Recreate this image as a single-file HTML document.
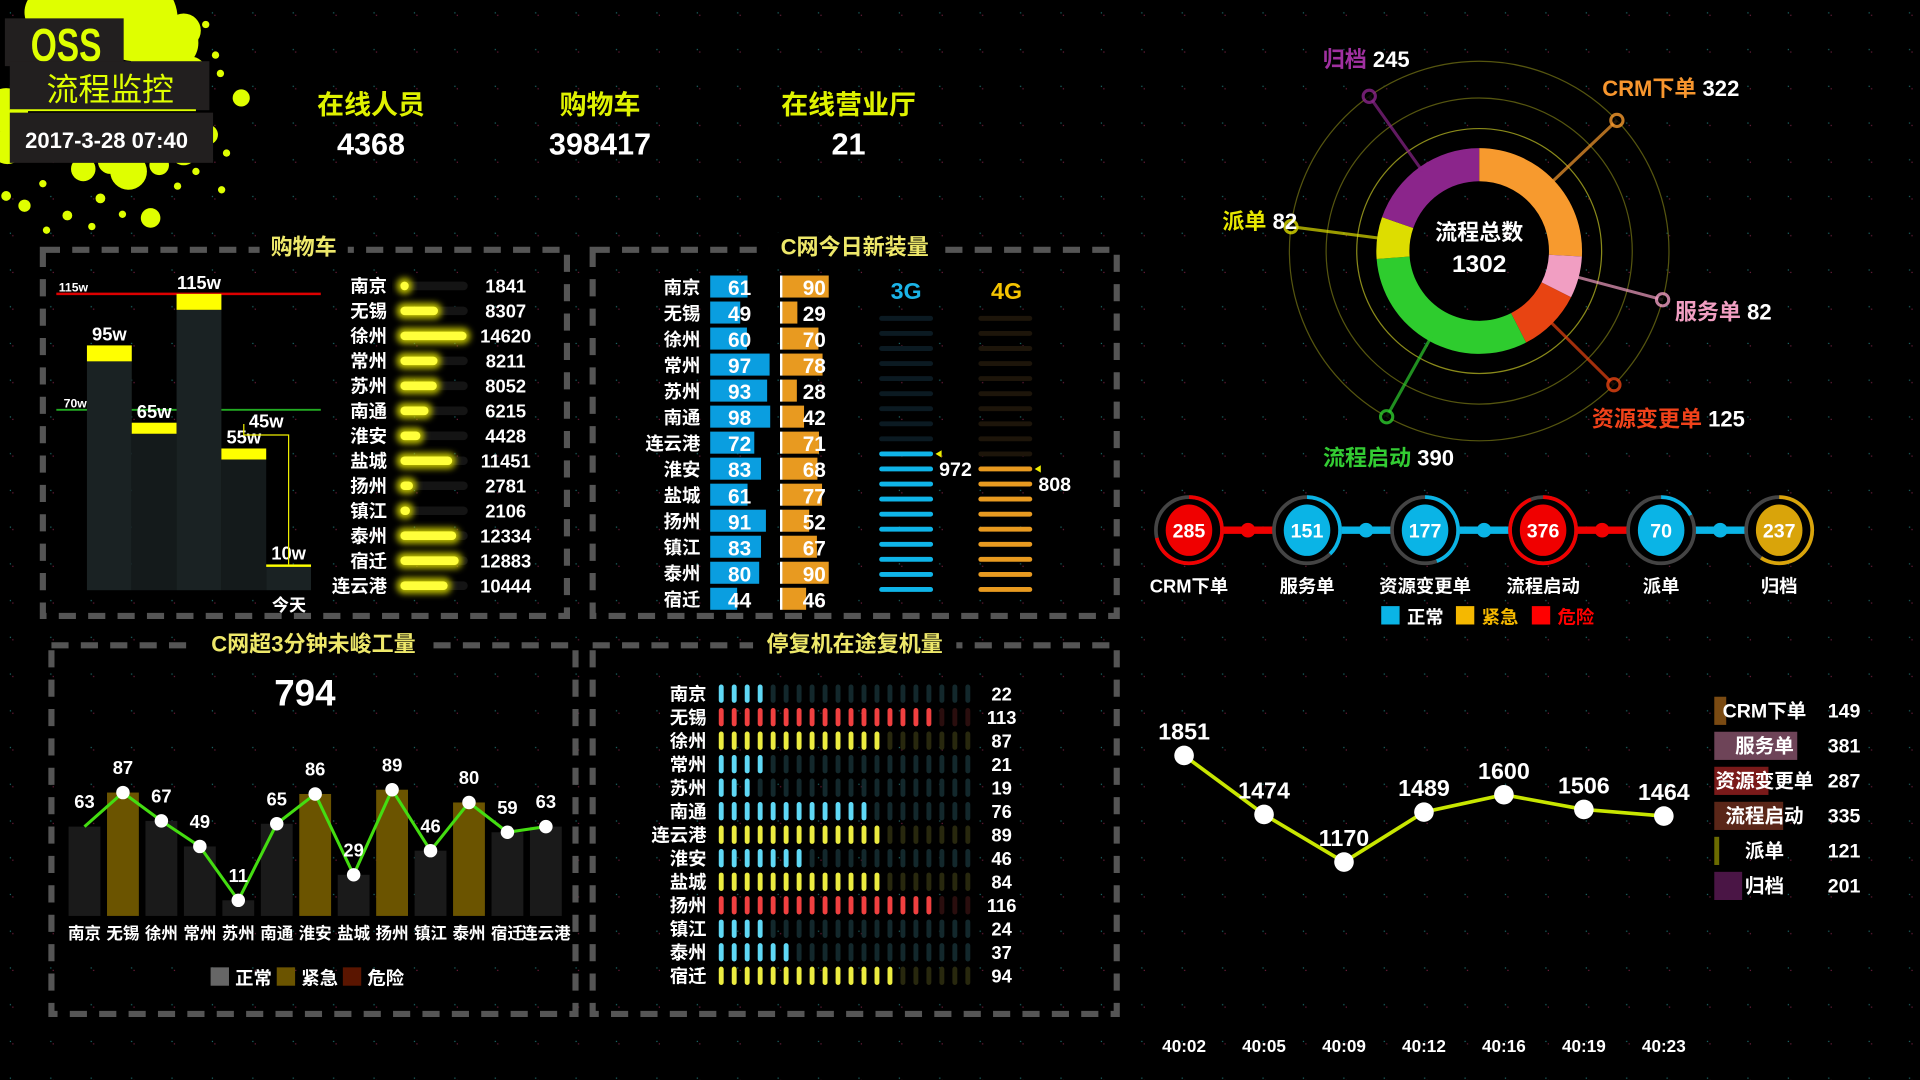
<!DOCTYPE html>
<html><head><meta charset="utf-8"><style>
html,body{margin:0;padding:0;background:#000;width:1920px;height:1080px;overflow:hidden}
svg{display:block}
text{font-family:"Liberation Sans","Noto Sans CJK SC",sans-serif;font-weight:bold}
</style></head><body>
<svg id="root" width="1920" height="1080" viewBox="0 0 1568 882" xmlns="http://www.w3.org/2000/svg">
<defs>
<pattern id="dots" width="33" height="30" patternUnits="userSpaceOnUse">
<rect x="8" y="10" width="1" height="1" fill="#1c6a6a"/><rect x="10" y="12" width="1" height="1" fill="#6a1c3a"/>
</pattern>
<filter id="glow" x="-30%" y="-100%" width="160%" height="300%"><feGaussianBlur stdDeviation="2.5"/></filter>
</defs>
<rect width="1568" height="882" fill="#000"/>
<rect width="1568" height="882" fill="url(#dots)"/>

<!-- splash logo -->
<g fill="#dfff00">
<circle cx="60" cy="20" r="30"/><circle cx="110" cy="15" r="35"/><circle cx="140" cy="35" r="22"/><circle cx="40" cy="10" r="20"/>
<circle cx="150" cy="25" r="14"/><circle cx="125" cy="50" r="18"/><circle cx="155" cy="60" r="14"/><circle cx="5" cy="90" r="18"/><circle cx="6" cy="120" r="14"/><circle cx="170" cy="110" r="8"/>
<circle cx="197" cy="80" r="7"/><circle cx="105" cy="140" r="15"/><circle cx="68" cy="138" r="10"/><circle cx="90" cy="132" r="10"/><circle cx="150" cy="125" r="10"/><circle cx="130" cy="135" r="8"/>
<circle cx="20" cy="168" r="5"/><circle cx="123" cy="178" r="8"/><circle cx="55" cy="176" r="4"/><circle cx="168" cy="20" r="3"/>
<circle cx="176" cy="45" r="3"/><circle cx="180" cy="60" r="3"/><circle cx="160" cy="140" r="3"/><circle cx="145" cy="152" r="3"/>
<circle cx="35" cy="150" r="3"/><circle cx="82" cy="162" r="4"/><circle cx="100" cy="175" r="3"/><circle cx="181" cy="155" r="3"/>
<circle cx="185" cy="125" r="3"/><circle cx="38" cy="188" r="3"/><circle cx="75" cy="185" r="3"/><circle cx="5" cy="160" r="4"/>
</g>
<rect x="4" y="15" width="97" height="39" fill="#221f1f"/>
<text x="54" y="50" text-anchor="middle" font-size="38" fill="#dfff00" transform="translate(54 0) scale(0.72 1) translate(-54 0)">OSS</text>
<rect x="8" y="50" width="163" height="40" fill="#221f1f"/>
<line x1="8" y1="90" x2="160" y2="90" stroke="#dfff00" stroke-width="1.5"/>
<text x="90" y="82" text-anchor="middle" font-size="26" fill="#dfff00" style="font-weight:normal">流程监控</text>
<rect x="8" y="92" width="166" height="41" fill="#221f1f"/>
<text x="87" y="121" text-anchor="middle" font-size="18" fill="#fff">2017-3-28  07:40</text>

<!-- KPIs -->
<g><text x="303" y="93" text-anchor="middle" font-size="22" fill="#dff200">在线人员</text><text x="303" y="126" text-anchor="middle" font-size="25" fill="#fff">4368</text></g>
<g><text x="490" y="93" text-anchor="middle" font-size="22" fill="#dff200">购物车</text><text x="490" y="126" text-anchor="middle" font-size="25" fill="#fff">398417</text></g>
<g><text x="693" y="93" text-anchor="middle" font-size="22" fill="#dff200">在线营业厅</text><text x="693" y="126" text-anchor="middle" font-size="25" fill="#fff">21</text></g>

<!-- panels -->
<g fill="none" stroke="#555" stroke-width="5" stroke-dasharray="14 10">
<rect x="35" y="204" width="428" height="299"/>
<rect x="484" y="204" width="428" height="299"/>
<rect x="42" y="527" width="428" height="301"/>
<rect x="484" y="527" width="428" height="301"/>
</g>
<g font-size="18" fill="#eee86a" text-anchor="middle">
<rect x="212" y="190" width="72" height="24" fill="#000"/><text x="248" y="208">购物车</text>
<rect x="628" y="190" width="140" height="24" fill="#000"/><text x="698" y="208">C网今日新装量</text>
<rect x="160" y="513" width="194" height="24" fill="#000"/><text x="256" y="532">C网超3分钟未峻工量</text>
<rect x="615" y="513" width="166" height="24" fill="#000"/><text x="698" y="532">停复机在途复机量</text>
</g>

<g id="g-cart"></g>
<g id="g-install"></g>
<g id="g-over"></g>
<g id="g-restart"></g>
<g id="g-donut"></g>
<g id="g-nodes"></g>
<g id="g-line"></g>
<g id="g-legend"></g>
</svg>
<script>
// ---- data ----
const wfLabels=["95w","65w","115w","55w","10w"];
const wfValues=[95,65,115,55,10];
const cartCities=["南京","无锡","徐州","常州","苏州","南通","淮安","盐城","扬州","镇江","泰州","宿迁","连云港"];
const cartValues=[1841,8307,14620,8211,8052,6215,4428,11451,2781,2106,12334,12883,10444];
const instCities=["南京","无锡","徐州","常州","苏州","南通","连云港","淮安","盐城","扬州","镇江","泰州","宿迁"];
const inst3G=[61,49,60,97,93,98,72,83,61,91,83,80,44];
const inst4G=[90,29,70,78,28,42,71,68,77,52,67,90,46];
const total3G=972, total4G=808;
const overCities=["南京","无锡","徐州","常州","苏州","南通","淮安","盐城","扬州","镇江","泰州","宿迁","连云港"];
const overValues=[63,87,67,49,11,65,86,29,89,46,80,59,63];
const overLevel=[0,1,0,0,0,0,1,0,1,0,1,0,0];
const overTotal=794;
const restCities=["南京","无锡","徐州","常州","苏州","南通","连云港","淮安","盐城","扬州","镇江","泰州","宿迁"];
const restValues=[22,113,87,21,19,76,89,46,84,116,24,37,94];
const donutNames=["CRM下单","服务单","资源变更单","流程启动","派单","归档"];
const donutValues=[322,82,125,390,82,245];
const donutTotal=1302;
const nodeNames=["CRM下单","服务单","资源变更单","流程启动","派单","归档"];
const nodeValues=[285,151,177,376,70,237];
const nodeStatus=[2,0,0,2,0,1];
const timeLabels=["40:02","40:05","40:09","40:12","40:16","40:19","40:23"];
const timeValues=[1851,1474,1170,1489,1600,1506,1464];
const legNames=["CRM下单","服务单","资源变更单","流程启动","派单","归档"];
const legValues=[149,381,287,335,121,201];

const NS="http://www.w3.org/2000/svg";
function mk(p,tag,at,txt){const e=document.createElementNS(NS,tag);for(const k in at)e.setAttribute(k,at[k]);if(txt!==undefined)e.textContent=txt;p.appendChild(e);return e;}

// ---- cart waterfall ----
(function(){
const g=document.getElementById('g-cart');
const base=482, sc=(482-240)/115, x0=71, bw=36.6;
const yv=v=>base-v*sc;
mk(g,'line',{x1:46,y1:yv(115),x2:262,y2:yv(115),stroke:'#d00',"stroke-width":2});
mk(g,'line',{x1:46,y1:yv(70),x2:262,y2:yv(70),stroke:'#2a2','stroke-width':1.5});
let t=mk(g,'text',{x:48,y:yv(115)-2,"font-size":10,fill:'#fff'},"115w");


t=mk(g,'text',{x:52,y:yv(70)-2,"font-size":10,fill:'#fff'},"70w");


wfValues.forEach((v,i)=>{
 const x=x0+i*bw, y=yv(v);
 const r=mk(g,'rect',{x:x,y:y,width:bw,height:base-y,fill:i%2?'#141a1b':'#1a2223'});
 
 
 const cap=mk(g,'rect',{x:x,y:y,width:bw,height:i==4?2:(i==0||i==2?13:9),fill:'#ff0'});
 
 
 const l=mk(g,'text',{x:x+bw/2,y:y-4,"text-anchor":"middle","font-size":15,fill:'#fff'},wfLabels[i]);
 
 
});
const bx=x0+3*bw+bw/2, ex=x0+4*bw+bw/2;
mk(g,'polyline',{points:`${bx},${yv(55)-20} ${bx},${yv(65)+10} ${ex},${yv(65)+10} ${ex},${yv(10)}`,fill:'none',stroke:'#ee0','stroke-width':1});
t=mk(g,'text',{x:(bx+ex)/2,y:yv(65)+4,"text-anchor":"middle","font-size":15,fill:'#fff'},"45w");


t=mk(g,'text',{x:236,y:499,"text-anchor":"middle","font-size":14,fill:'#fff'},"今天");


const mx=Math.max(...cartValues);
cartValues.forEach((v,i)=>{
 const y=233+i*20.4;
 const n=mk(g,'text',{x:316,y:y+6,"text-anchor":"end","font-size":15,fill:'#fff'},cartCities[i]);
 
 
 mk(g,'rect',{x:326,y:y-3,width:56,height:7,rx:3.5,fill:'#141414'});
 const w=Math.max(6,v/mx*54);
 mk(g,'rect',{x:324,y:y-6,width:w+6,height:13,rx:6,fill:'#bfbf00',filter:'url(#glow)'});
 const b=mk(g,'rect',{x:327,y:y-3,width:w,height:7,rx:3.5,fill:'#ffff3a'});
 
 
 const val=mk(g,'text',{x:413,y:y+6,"text-anchor":"middle","font-size":15,fill:'#fff'},v);
 
 
});
})();

// ---- new install ----
(function(){
const g=document.getElementById('g-install');
inst3G.forEach((v,i)=>{
 const y=234+i*21.25;
 const n=mk(g,'text',{x:572,y:y+6,"text-anchor":"end","font-size":15,fill:'#fff'},instCities[i]);
 
 
 const b=mk(g,'rect',{x:580,y:y-9,width:v*0.5,height:18,fill:'#0a9ee0'});
 
 
 const t=mk(g,'text',{x:604,y:y+7,"text-anchor":"middle","font-size":17,fill:'#fff'},v);
 
 
 const v4=inst4G[i];
 mk(g,'rect',{x:637,y:y-9,width:2,height:18,fill:'#fff'});
 const b4=mk(g,'rect',{x:639,y:y-9,width:v4*0.42,height:18,fill:'#e89a20'});
 
 
 const t4=mk(g,'text',{x:665,y:y+7,"text-anchor":"middle","font-size":17,fill:'#fff'},v4);
 
 
});
let t=mk(g,'text',{x:740,y:244,"text-anchor":"middle","font-size":19,fill:'#1bb4e8'},"3G");


t=mk(g,'text',{x:822,y:244,"text-anchor":"middle","font-size":19,fill:'#f5c400'},"4G");


const N=19, maxT=1800;
function gauge(x,total,on,off,lbl){
 const lit=Math.round(total/maxT*N);
 for(let k=0;k<N;k++){
  const y=260+k*12.3;
  const l=mk(g,'line',{x1:x,y1:y,x2:x+40,y2:y,stroke:(N-k)<=lit?on:off,"stroke-width":4,"stroke-linecap":"round"});
  
  
 }
 const ty=260+(N-lit)*12.3;
 mk(g,'polygon',{points:`${x+44},${ty} ${x+49},${ty-3} ${x+49},${ty+3}`,fill:'#ee0'});
 const tt=mk(g,'text',{x:x+47,y:ty+18,"font-size":16,fill:'#fff'},total);
 
 
}
gauge(720,total3G,'#0fb4e8','#0b1a22','total-3g');
gauge(801,total4G,'#e89a20','#1d150a','total-4g');
})();

// ---- overtime chart ----
(function(){
const g=document.getElementById('g-over');
let t=mk(g,'text',{x:249,y:576,"text-anchor":"middle","font-size":30,fill:'#fff'},overTotal);


const base=748, sc=1.158, x0=69, st=31.4;
const X=i=>x0+i*st, Y=v=>base-v*sc;
const cols=['#1a1a1a','#6b5400','#5a1500'];
overValues.forEach((v,i)=>{
 const b=mk(g,'rect',{x:X(i)-13,y:Y(v),width:26,height:base-Y(v),fill:cols[overLevel[i]]});
 
 
 const c=mk(g,'text',{x:X(i),y:767,"text-anchor":"middle","font-size":13.5,fill:'#fff'},overCities[i]);
 
 
});
mk(g,'polyline',{points:overValues.map((v,i)=>X(i)+','+Y(v)).join(' '),fill:'none',stroke:'#44dd11','stroke-width':2.5});
overValues.forEach((v,i)=>{
 if(i>0){const d=mk(g,'circle',{cx:X(i),cy:Y(v),r:5.5,fill:'#fff'});
 
 }
 const l=mk(g,'text',{x:X(i),y:Y(v)-15,"text-anchor":"middle","font-size":15,fill:'#fff'},v);
 
 
});
const lg=[['#666','正常',172],['#6b5400','紧急',226],['#5a1500','危险',280]];
lg.forEach(a=>{
 const r=mk(g,'rect',{x:a[2],y:790,width:15,height:15,fill:a[0]});
 
 
 const tx=mk(g,'text',{x:a[2]+20,y:804,"font-size":15,fill:'#fff'},a[1]);
 
 
});
})();

// ---- restart pills ----
(function(){
const g=document.getElementById('g-restart');
restValues.forEach((v,i)=>{
 const y=566+i*19.2;
 const n=mk(g,'text',{x:577,y:y+6,"text-anchor":"end","font-size":15,fill:'#fff'},restCities[i]);
 
 
 const lvl=v>100?2:(v>=80?1:0);
 const on=['#5fd8f5','#ecec40','#f04040'][lvl], off=['#13282c','#28280e','#2a0e0e'][lvl];
 const lit=Math.ceil(v/6.9);
 for(let k=0;k<20;k++){
  const p=mk(g,'rect',{x:587+k*10.6,y:y-7,width:4,height:15,rx:2,fill:k<lit?on:off});
  
  
 }
 const t=mk(g,'text',{x:818,y:y+6,"text-anchor":"middle","font-size":15,fill:'#fff'},v);
 
 
});
})();

// ---- donut ----
(function(){
const g=document.getElementById('g-donut');
const cx=1208, cy=205, r0=57, r1=84;
[100,125,155].forEach(r=>mk(g,'circle',{cx:cx,cy:cy,r:r,fill:'none',stroke:r==100?'#8a8a1a':'#55550f','stroke-width':1}));
const cols=['#f79a2e','#f19ec2','#e84412','#2ecc2e','#dddd00','#8b258b'];
const labCols=['#f7962e','#f19ec2','#f0421a','#33cc33','#e8e800','#a030a0'];
const sum=donutValues.reduce((a,b)=>a+b,0);
let a=0;
const P=(ang,r)=>[cx+r*Math.sin(ang),cy-r*Math.cos(ang)];
const offs=[[-12,-20,'start'],[10,16,'start'],[-18,34,'start'],[-52,40,'start'],[-56,2,'start'],[-38,-24,'start']];
donutValues.forEach((v,i)=>{
 const a0=a/sum*2*Math.PI; a+=v; const a1=a/sum*2*Math.PI;
 const [x0,y0]=P(a0,r1),[x1,y1]=P(a1,r1),[x2,y2]=P(a1,r0),[x3,y3]=P(a0,r0);
 const lg=(a1-a0)>Math.PI?1:0;
 const s=mk(g,'path',{d:`M${x0},${y0} A${r1},${r1} 0 ${lg} 1 ${x1},${y1} L${x2},${y2} A${r0},${r0} 0 ${lg} 0 ${x3},${y3}Z`,fill:cols[i]});
 
 
 const am=(a0+a1)/2, [lx0,ly0]=P(am,r1-4), [lx1,ly1]=P(am,155);
 mk(g,'line',{x1:lx0,y1:ly0,x2:lx1,y2:ly1,stroke:cols[i],"stroke-width":2.5,opacity:0.7});
 mk(g,'circle',{cx:lx1,cy:ly1,r:5,fill:'#000',stroke:cols[i],"stroke-width":2.5,opacity:0.8});
 const o=offs[i];
 const t=mk(g,'text',{x:lx1+o[0],y:ly1+o[1],"font-size":18,"text-anchor":o[2]});
 
 
 const s1=document.createElementNS(NS,'tspan');s1.setAttribute('fill',labCols[i]);s1.textContent=donutNames[i];t.appendChild(s1);
 const s2=document.createElementNS(NS,'tspan');s2.setAttribute('fill','#fff');s2.textContent=' '+v;t.appendChild(s2);
});
let t=mk(g,'text',{x:cx,y:cy-9,"text-anchor":"middle","font-size":18,fill:'#fff'},"流程总数");


t=mk(g,'text',{x:cx,y:cy+17,"text-anchor":"middle","font-size":20,fill:'#fff'},donutTotal);


})();

// ---- status nodes ----
(function(){
const g=document.getElementById('g-nodes');
const y=433, x0=971, st=96.4;
const cols=['#0ab4e6','#d9a40a','#f00000'];
for(let i=0;i<nodeValues.length-1;i++){
 const c=cols[nodeStatus[i]];
 mk(g,'line',{x1:x0+i*st,y1:y,x2:x0+(i+1)*st,y2:y,stroke:c,"stroke-width":6});
 mk(g,'circle',{cx:x0+i*st+st/2,cy:y,r:6,fill:c});
}
nodeValues.forEach((v,i)=>{
 const x=x0+i*st, c=cols[nodeStatus[i]], R=27;
 mk(g,'circle',{cx:x,cy:y,r:R,fill:'#000',stroke:'#444',"stroke-width":3});
 const f=Math.min(v/400,0.999), ang=f*2*Math.PI;
 const ex=x+R*Math.sin(ang), ey=y-R*Math.cos(ang);
 const arc=mk(g,'path',{d:`M${x},${y-R} A${R},${R} 0 ${f>0.5?1:0} 1 ${ex},${ey}`,fill:'none',stroke:c,"stroke-width":3});
 
 
 const n=mk(g,'ellipse',{cx:x,cy:y,rx:19,ry:21,fill:c});
 
 
 const t=mk(g,'text',{x:x,y:y+6,"text-anchor":"middle","font-size":16,fill:'#fff'},v);
 
 
 const l=mk(g,'text',{x:x,y:484,"text-anchor":"middle","font-size":15,fill:'#fff'},nodeNames[i]);
 
 
});
const lg=[['#0ab4e6','正常','#fff',1128],['#f5b800','紧急','#f5b800',1189],['#f00','危险','#f00',1251]];
lg.forEach(a=>{
 const r=mk(g,'rect',{x:a[3],y:495,width:15,height:15,fill:a[0]});
 
 
 const t=mk(g,'text',{x:a[3]+21,y:509,"font-size":15,fill:a[2]},a[1]);
 
 
});
})();

// ---- line chart ----
(function(){
const g=document.getElementById('g-line');
const x0=967, st=65.3;
const X=i=>x0+i*st, Y=v=>704-(v-1170)*0.1278;
mk(g,'polyline',{points:timeValues.map((v,i)=>X(i)+','+Y(v)).join(' '),fill:'none',stroke:'#c8e600',"stroke-width":3});
timeValues.forEach((v,i)=>{
 const d=mk(g,'circle',{cx:X(i),cy:Y(v),r:8,fill:'#fff'});
 
 
 const t=mk(g,'text',{x:X(i),y:Y(v)-13,"text-anchor":"middle","font-size":19,fill:'#fff'},v);
 
 
 const xl=mk(g,'text',{x:X(i),y:859,"text-anchor":"middle","font-size":14,fill:'#fff'},timeLabels[i]);
 
 
});
})();

// ---- right legend bars ----
(function(){
const g=document.getElementById('g-legend');
const cols=['#7a4a12','#6e4458','#7a1a1a','#5a2618','#6b6b00','#4a1545'];
legValues.forEach((v,i)=>{
 const y=580+i*28.6;
 const b=mk(g,'rect',{x:1400,y:y-11,width:Math.max(4,(v-110)*0.25),height:23,fill:cols[i]});
 
 
 const t=mk(g,'text',{x:1441,y:y+6,"text-anchor":"middle","font-size":16,fill:'#fff'},legNames[i]);
 
 
 const vv=mk(g,'text',{x:1506,y:y+6,"text-anchor":"middle","font-size":16,fill:'#fff'},v);
 
 
});
})();
</script>
</body></html>
